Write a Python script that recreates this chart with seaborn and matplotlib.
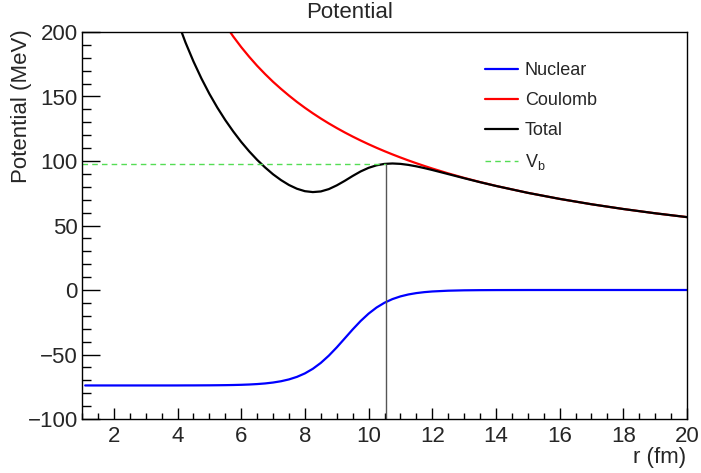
import matplotlib
matplotlib.use("Agg")
import matplotlib.pyplot as plt
import seaborn as sns

# ---- data ----
r_fm = [1.1, 1.5, 2.0, 2.5, 3.0, 3.5, 3.75, 4.0, 4.25, 4.5, 4.75, 5.0, 5.25, 5.5, 5.75,
        6.0, 6.25, 6.5, 6.75, 7.0, 7.25, 7.5, 7.75, 8.0, 8.25, 8.5, 8.75, 9.0, 9.25,
        9.5, 9.75, 10.0, 10.25, 10.5, 10.75, 11.0, 11.25, 11.5, 11.75, 12.0, 12.5,
        13.0, 13.5, 14.0, 15.0, 16.0, 17.0, 18.0, 19.0, 20.0]

nuclear = [-74.0, -74.0, -74.0, -74.0, -74.0, -74.0, -74.0, -73.99, -73.96, -73.95, -73.92,
           -73.89, -73.83, -73.76, -73.65, -73.49, -73.26, -72.92, -72.44, -71.73,
           -70.73, -69.31, -67.34, -64.65, -61.07, -56.50, -50.92, -44.50, -37.56,
           -30.59, -24.05, -18.33, -13.59, -9.87, -7.04, -4.96, -3.46, -2.40, -1.66,
           -1.14, -0.54, -0.25, -0.12, -0.06, -0.01, 0.0, 0.0, 0.0, 0.0, 0.0]

coulomb = [1027.3, 753.3, 565.0, 452.0, 376.7, 322.9, 301.3, 282.5, 265.9, 251.1, 237.9,
           226.0, 215.2, 205.5, 196.5, 188.3, 180.8, 173.8, 167.4, 161.4, 155.9, 150.7,
           145.8, 141.25, 136.97, 132.94, 129.14, 125.56, 122.16, 118.95, 115.90,
           113.0, 110.24, 107.62, 105.12, 102.73, 100.44, 98.26, 96.17, 94.17, 90.4,
           86.92, 83.70, 80.71, 75.33, 70.63, 66.47, 62.78, 59.47, 56.5]

total = [953.3, 679.3, 491.0, 378.0, 302.7, 248.9, 227.3, 208.5, 191.9, 177.2, 164.0,
         152.1, 141.4, 131.7, 122.9, 114.8, 107.5, 100.9, 95.0, 89.7, 85.2, 81.4, 78.5,
         76.6, 75.9, 76.4, 78.2, 81.1, 84.6, 88.4, 91.9, 94.7, 96.65, 97.76, 98.08,
         97.77, 96.98, 95.86, 94.51, 93.03, 89.86, 86.67, 83.58, 80.66, 75.32, 70.63,
         66.47, 62.78, 59.47, 56.5]

r_barrier = 10.56
V_barrier = 97.7

x_range = (1, 20)
y_range = (-100, 200)
x_ticks = [2, 4, 6, 8, 10, 12, 14, 16, 18, 20]
y_ticks = [-100, -50, 0, 50, 100, 150, 200]

# ---- style ----
sns.set_theme(style="white")
plt.rcParams["font.family"] = ["Liberation Sans", "DejaVu Sans"]

W, H = 701, 473
fig = plt.figure(figsize=(W / 100, H / 100), dpi=100)
ax = fig.add_axes([82 / W, 1 - 419 / H, (687 - 82) / W, (419 - 32) / H])

sns.lineplot(x=r_fm, y=nuclear, color="#0000ff", lw=1.6, ax=ax, label="Nuclear", sort=False)
sns.lineplot(x=r_fm, y=coulomb, color="#ff0000", lw=1.6, ax=ax, label="Coulomb", sort=False)
sns.lineplot(x=r_fm, y=total, color="#000000", lw=1.6, ax=ax, label="Total", sort=False)
sns.lineplot(x=[x_range[0], r_barrier], y=[V_barrier, V_barrier], color="#55dd55",
             lw=1.0, ax=ax, label=r"V$_\mathregular{b}$", dashes=False, linestyle=(0, (4, 3)))
ax.vlines(r_barrier, y_range[0], V_barrier, color="#555555", lw=1.0)

ax.set_xlim(*x_range)
ax.set_ylim(*y_range)
ax.set_xticks(x_ticks)
ax.set_yticks(y_ticks)
ax.xaxis.set_minor_locator(matplotlib.ticker.MultipleLocator(0.5))
ax.yaxis.set_minor_locator(matplotlib.ticker.MultipleLocator(10))
ax.tick_params(axis="both", which="both", direction="in", labelsize=16,
               top=False, right=False, color="black", width=1.0)
ax.tick_params(axis="y", which="major", length=13, pad=3, left=True)
ax.tick_params(axis="y", which="minor", length=6.5, left=True)
ax.tick_params(axis="x", which="major", length=8, pad=5, bottom=True)
ax.tick_params(axis="x", which="minor", length=4, bottom=True)
for s in ax.spines.values():
    s.set_color("black")
    s.set_linewidth(1.0)

ax.set_xlabel("")
ax.set_ylabel("")
fig.text(22 / W, 1 - 106 / H, "Potential (MeV)", rotation=90, ha="center", va="center",
         fontsize=16)
fig.text(686 / W, 1 - 457 / H, "r (fm)", ha="right", va="center", fontsize=16)
fig.text(350 / W, 1 - 12 / H, "Potential", ha="center", va="center", fontsize=16)

leg = ax.legend(loc="upper left", bbox_to_anchor=(485 / W, 1 - 62 / H),
                bbox_transform=fig.transFigure, frameon=False, fontsize=13,
                handlelength=1.8, handletextpad=0.4, labelspacing=0.72,
                borderpad=0, borderaxespad=0)

fig.savefig("out.png", dpi=100, facecolor="white")
